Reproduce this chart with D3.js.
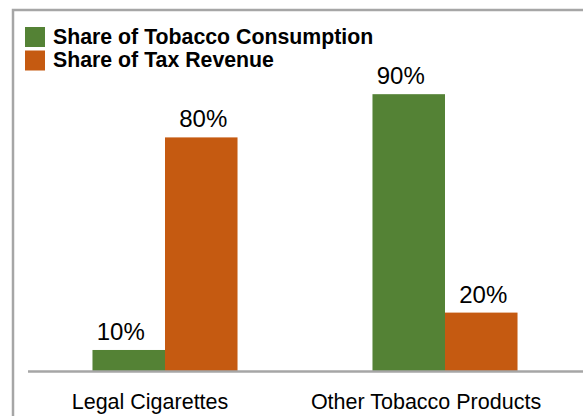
<!DOCTYPE html>
<html><head><meta charset="utf-8">
<script src="https://cdn.jsdelivr.net/npm/d3@7"></script>
<style>body{margin:0;background:#fff}svg{display:block;font-family:"Liberation Sans",Arial,sans-serif}</style>
</head><body><svg id="c" width="583" height="416"></svg>
<script>
const categories = ["Legal Cigarettes", "Other Tobacco Products"];
const seriesNames = ["Share of Tobacco Consumption", "Share of Tax Revenue"];
const consumption = [7.2, 94.8];
const taxRevenue = [80, 20];
const consumptionLabels = ["10%", "90%"];
const taxLabels = ["80%", "20%"];
const colors = ["#548235", "#C55A11"];

const svg = d3.select("#c");
const W = 583, H = 416;
const baseY = 371;

// frame
svg.append("path").attr("d", `M13,${H+5}V10H${W+5}`).attr("fill","none").attr("stroke","#a6a6a6").attr("stroke-width",2.5);

const x0 = d3.scaleBand().domain(categories).range([25, 585]).paddingInner(0.482).paddingOuter(0.241);
const x1 = d3.scaleBand().domain(seriesNames).range([0, x0.bandwidth()]);
const y = d3.scaleLinear().domain([0, 100]).range([baseY, baseY - 292]);

const series = [
  {name: seriesNames[0], values: consumption, labels: consumptionLabels, color: colors[0], dx: -8},
  {name: seriesNames[1], values: taxRevenue, labels: taxLabels, color: colors[1], dx: 2}
];

series.forEach(s => {
  const g = svg.append("g");
  g.selectAll("rect").data(categories).join("rect")
    .attr("x", (c) => x0(c) + x1(s.name))
    .attr("y", (c, i) => y(s.values[i]))
    .attr("width", x1.bandwidth())
    .attr("height", (c, i) => baseY - y(s.values[i]))
    .attr("fill", s.color);
  g.selectAll("text").data(categories).join("text")
    .attr("x", (c) => x0(c) + x1(s.name) + x1.bandwidth()/2 + s.dx)
    .attr("y", (c, i) => y(s.values[i]) - 10)
    .attr("text-anchor", "middle")
    .attr("font-size", 24)
    .attr("fill", "#000")
    .text((c, i) => s.labels[i]);
});

// axis
const axis = d3.axisBottom(x0).tickSize(0).tickPadding(0);
const ag = svg.append("g").attr("transform", `translate(0,${baseY})`).call(axis);
ag.select(".domain").attr("d", `M28,0.5H${W+5}`).attr("stroke", "#a6a6a6").attr("stroke-width", 2.5);
ag.selectAll(".tick text").attr("font-size", 21.5).attr("font-family", "Liberation Sans, Arial, sans-serif")
  .attr("fill", "#000").attr("dy", 0).attr("y", 38).attr("dx", (d, i) => i === 0 ? -15 : -19);

// legend
const lg = svg.append("g");
seriesNames.forEach((n, i) => {
  lg.append("rect").attr("x", 25).attr("y", 27 + i*23.5).attr("width", 20).attr("height", 20).attr("fill", colors[i]);
  lg.append("text").attr("x", 53).attr("y", 43.5 + i*23.5).attr("font-size", 21.3).attr("font-weight", "bold").attr("fill", "#000").text(n);
});
</script></body></html>
